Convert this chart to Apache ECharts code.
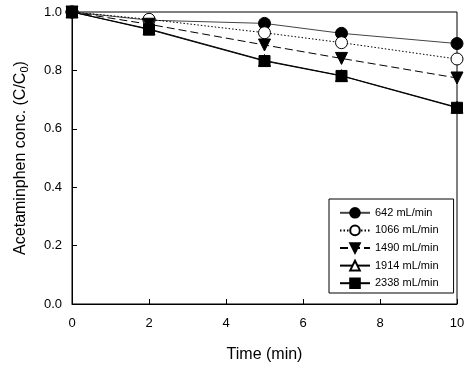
<!DOCTYPE html>
<html><head><meta charset="utf-8">
<script src="https://cdn.jsdelivr.net/npm/echarts@6/dist/echarts.min.js"></script>
<style>html,body{margin:0;padding:0;background:#fff}#c{width:473px;height:369px}</style>
</head><body><div id="c"></div>
<script>
var times = [0, 2, 5, 7, 10];
var s642 = [1.0, 0.972, 0.961, 0.927, 0.892];
var s1066 = [1.0, 0.975, 0.929, 0.895, 0.839];
var s1490 = [1.0, 0.958, 0.887, 0.841, 0.774];
var s1914 = [1.0, 0.942, 0.834, 0.782, 0.674];
var s2338 = [1.0, 0.940, 0.832, 0.781, 0.672];
var names = ['642 mL/min', '1066 mL/min', '1490 mL/min', '1914 mL/min', '2338 mL/min'];
var yTicks = [0, 0.2, 0.4, 0.6, 0.8, 1.0];
var xTicks = [0, 2, 4, 6, 8, 10];

function pairs(v){ return times.map(function(t,i){return [t, v[i]];}); }
function ser(name, vals, symbol, size, fill, lineType, lineColor){
  return {
    name: name, type: 'line', data: pairs(vals), clip: false,
    symbol: symbol, symbolSize: size, showSymbol: true,
    itemStyle: {color: fill, borderColor: '#000', borderWidth: 1},
    lineStyle: {color: lineColor, width: 1, type: lineType},
    emphasis: {disabled: true}, animation: false
  };
}
var chart = echarts.init(document.getElementById('c'));
var font = 'Liberation Sans, Arial, sans-serif';
chart.setOption({
  animation: false,
  grid: {left: 72, right: 16, top: 12, bottom: 65, show: true, borderColor: '#000', borderWidth: 1},
  xAxis: {
    type: 'value', min: 0, max: 10, interval: 2,
    name: 'Time (min)', nameLocation: 'middle', nameGap: 43,
    nameTextStyle: {fontFamily: font, fontSize: 16, color: '#000'},
    axisLine: {show: true, lineStyle: {color: '#000'}},
    axisTick: {show: true, inside: true, length: 5, lineStyle: {color: '#000'}},
    axisLabel: {fontFamily: font, fontSize: 13, color: '#000', margin: 13},
    splitLine: {show: false}
  },
  yAxis: {
    type: 'value', min: 0, max: 1.0, interval: 0.2,
    name: 'Acetaminphen conc. (C/C{sub|0})', nameLocation: 'middle', nameGap: 42,
    nameTextStyle: {fontFamily: font, fontSize: 16, color: '#000',
      rich: {sub: {fontFamily: font, fontSize: 11, color: '#000', verticalAlign: 'bottom', padding: [8,0,0,0]}}},
    axisLine: {show: true, lineStyle: {color: '#000'}},
    axisTick: {show: true, inside: true, length: 5, lineStyle: {color: '#000'}},
    axisLabel: {fontFamily: font, fontSize: 13, color: '#000', margin: 10,
      formatter: function(v){ return v.toFixed(1); }},
    splitLine: {show: false}
  },
  legend: {
    orient: 'vertical', left: 329, top: 199,
    padding: [8, 15, 4, 10], itemGap: 6, itemWidth: 30, itemHeight: 12,
    borderColor: '#000', borderWidth: 1,
    textStyle: {fontFamily: font, fontSize: 11, color: '#000'},
    data: names
  },
  series: [
    ser(names[0], s642, 'circle', 12, '#000', 'solid', '#444'),
    ser(names[1], s1066, 'circle', 12, '#fff', [1.5, 2], '#000'),
    ser(names[2], s1490, 'path://M0,0 L10,0 L5,10 Z', 12, '#000', [8, 4], '#000'),
    ser(names[3], s1914, 'triangle', 12, '#fff', 'solid', '#000'),
    ser(names[4], s2338, 'rect', 11, '#000', 'solid', '#000')
  ]
});
</script></body></html>
